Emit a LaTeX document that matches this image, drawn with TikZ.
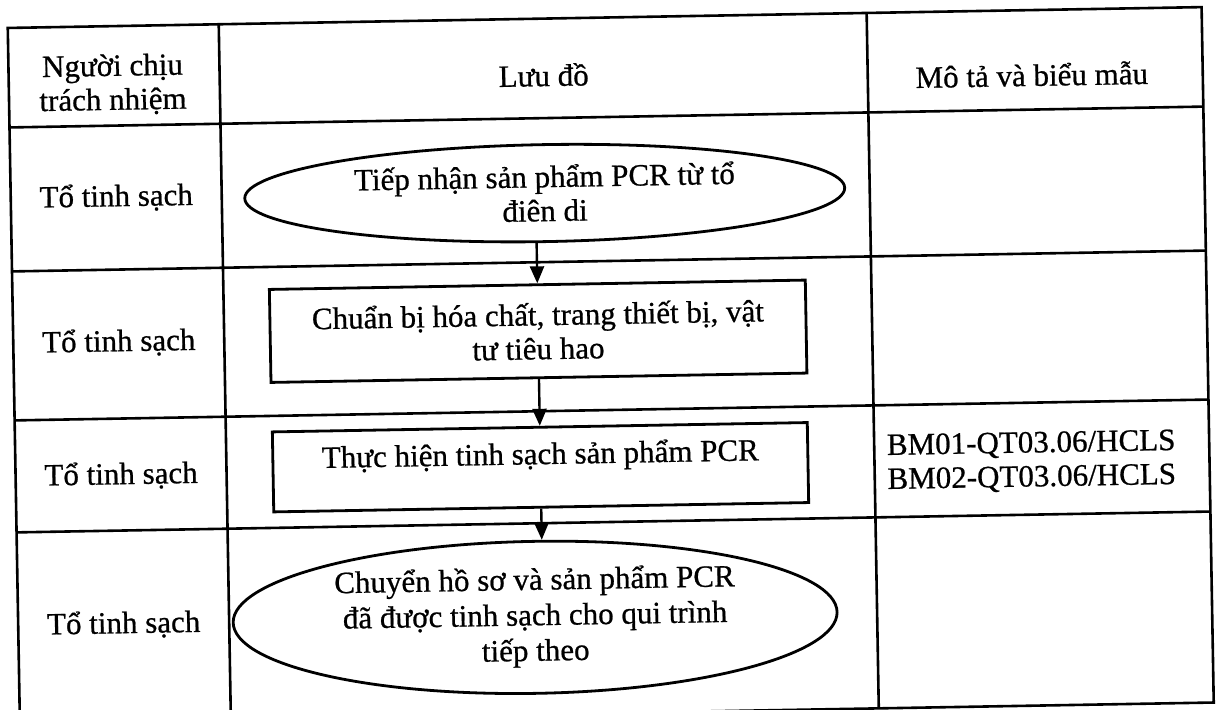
\documentclass[tikz,border=0pt]{standalone}
\usepackage{fontspec}
\setmainfont{Liberation Serif}[FakeBold=0.7]
\usetikzlibrary{shapes.geometric,arrows.meta}
\begin{document}
\begin{tikzpicture}[x=1pt,y=-1pt,
  grid/.style={line width=2.6pt, black},
  flowbox/.style={draw, line width=2.8pt, rectangle, inner sep=0pt, align=center},
  terminal/.style={draw, line width=2.8pt, ellipse, inner sep=0pt, align=center},
  flowarrow/.style={line width=2.4pt, -{Triangle[length=17pt,width=14pt]}},
  cell/.style={inner sep=0pt, align=center},
  font=\fontsize{31}{34}\selectfont]

\fill[white] (0,0) rectangle (1217,709);
\useasboundingbox (0,0) rectangle (1217,709);

\begin{scope}[rotate around={1:(610,380)}, transform shape]
  % table frame, columns and rows
  \draw[grid] (14,17.5) rectangle (1208,713);
  \draw[grid] (225,17.5) -- (225,713);
  \draw[grid] (873,17.5) -- (873,713);
  \foreach \yy in {117,261,410,522}
    \draw[grid] (14,\yy) -- (1208,\yy);

  % header
  \node[cell] (h1) at (118,76) {Người chịu\\trách nhiệm};
  \node[cell] (h2) at (549,74) {Lưu đồ};
  \node[cell] (h3) at (1037,82) {Mô tả và biểu mẫu};

  % responsible unit per step
  \node[cell] (r1) at (119.5,189) {Tổ tinh sạch};
  \node[cell] (r2) at (119.5,334) {Tổ tinh sạch};
  \node[cell] (r3) at (119.5,467) {Tổ tinh sạch};
  \node[cell] (r4) at (119.5,616) {Tổ tinh sạch};

  % forms
  \node[cell, align=left] (f3) at (1030,469) {BM01-QT03.06/HCLS\\BM02-QT03.06/HCLS};

  % flow chart
  \node[terminal, minimum width=600pt, minimum height=97pt] (s1) at (548,192)
    {Tiếp nhận sản phẩm PCR từ tổ\\điên di};
  \node[flowbox, minimum width=536pt, minimum height=93pt] (s2) at (539,330)
    {Chuẩn bị hóa chất, trang thiết bị, vật\\tư tiêu hao};
  \node[flowbox, minimum width=535pt, minimum height=80pt] (s3) at (539,466) {};
  \node[cell] (s3t) at (539,455) {Thực hiện tinh sạch sản phẩm PCR};
  \node[terminal, minimum width=604pt, minimum height=152pt, font=\fontsize{31}{35.5}\selectfont] (s4) at (531,616)
    {Chuyển hồ sơ và sản phẩm PCR\\đã được tinh sạch cho qui trình\\tiếp theo};

  \draw[flowarrow] (s1.south -| s2.north) -- (s2.north);
  \draw[flowarrow] (s2.south) -- (s3.north);
  \draw[flowarrow] (s3.south) -- (s3.south |- s4.north);
\end{scope}
\end{tikzpicture}
\end{document}
